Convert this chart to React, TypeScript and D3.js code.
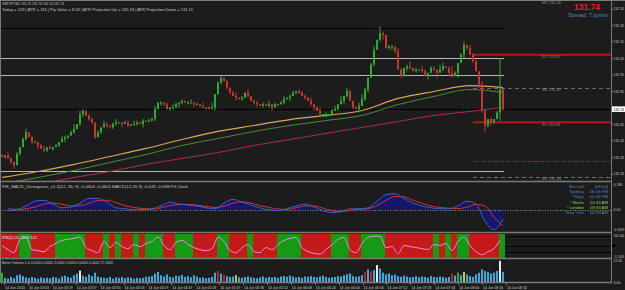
import React from "react";
import * as d3 from "d3";

const W = 625;
const H = 290;

// ---------- DATA ----------
const firstOpen = 131.46;
const closes = [
  131.45, 131.46, 131.44, 131.42, 131.40, 131.47, 131.51, 131.56, 131.60, 131.57,
  131.54, 131.54, 131.52, 131.50, 131.49, 131.51, 131.50, 131.51, 131.52, 131.54,
  131.56, 131.57, 131.58, 131.60, 131.62, 131.65, 131.71, 131.73, 131.70, 131.68,
  131.66, 131.57, 131.60, 131.63, 131.65, 131.64, 131.63, 131.65, 131.66, 131.66,
  131.65, 131.66, 131.64, 131.65, 131.65, 131.66, 131.65, 131.67, 131.67, 131.67,
  131.68, 131.74, 131.78, 131.78, 131.77, 131.74, 131.75, 131.75, 131.77, 131.78,
  131.79, 131.78, 131.78, 131.78, 131.77, 131.77, 131.76, 131.75, 131.75, 131.74,
  131.75, 131.83, 131.90, 131.93, 131.91, 131.87, 131.84, 131.82, 131.81, 131.80,
  131.81, 131.84, 131.82, 131.79, 131.78, 131.77, 131.76, 131.77, 131.76, 131.77,
  131.75, 131.77, 131.77, 131.78, 131.80, 131.81, 131.82, 131.84, 131.85, 131.84,
  131.82, 131.81, 131.79, 131.77, 131.75, 131.73, 131.71, 131.71, 131.71, 131.71,
  131.73, 131.74, 131.77, 131.79, 131.82, 131.85, 131.79, 131.75, 131.74, 131.76,
  131.80, 131.86, 131.93, 132.01, 132.10, 132.16, 132.20, 132.19, 132.11, 132.12,
  132.12, 132.09, 131.98, 131.94, 131.99, 132.00, 131.99, 131.97, 131.98, 131.98,
  131.97, 131.94, 131.96, 131.99, 131.98, 131.96, 131.98, 132.00, 131.99, 131.96,
  131.94, 131.96, 132.02, 132.07, 132.13, 132.11, 132.07, 132.03, 131.97, 131.89,
  131.73, 131.64, 131.68, 131.66, 131.68, 131.72, 131.86, 131.74,
];
// wick lengths in pips (0.01)
const wickUp = [
  1, 0, 2, 1, 0, 1, 0, 1, 2, 0, 1, 1, 0, 1, 2, 0, 1, 0, 1, 0,
  2, 1, 0, 1, 3, 0, 2, 1, 0, 1, 1, 0, 1, 0, 2, 1, 0, 1, 2, 0,
  0, 1, 1, 0, 2, 1, 0, 1, 0, 1, 1, 2, 0, 1, 0, 1, 0, 2, 1, 0,
  1, 0, 1, 2, 0, 1, 0, 2, 0, 1, 3, 0, 1, 1, 0, 1, 0, 1, 2, 0,
  1, 0, 2, 0, 1, 1, 0, 1, 0, 2, 0, 1, 0, 1, 2, 0, 1, 1, 0, 1,
  1, 1, 0, 2, 0, 1, 2, 0, 1, 0, 1, 2, 0, 3, 0, 2, 1, 0, 1, 2,
  3, 1, 0, 1, 2, 0, 4, 1, 0, 1, 1, 0, 2, 1, 0, 1, 3, 0, 1, 0,
  2, 1, 0, 1, 1, 0, 3, 2, 0, 1, 4, 1, 0, 1, 2, 0, 2, 1, 1, 0,
  2, 1, 0, 1, 0, 1, 19, 0,
];
const wickDn = [
  0, 1, 0, 1, 2, 0, 1, 0, 1, 0, 1, 0, 2, 0, 1, 1, 0, 1, 0, 1,
  0, 2, 1, 0, 1, 0, 1, 2, 0, 1, 1, 1, 0, 1, 0, 2, 0, 1, 1, 0,
  2, 0, 1, 0, 1, 1, 0, 2, 0, 1, 0, 1, 0, 2, 1, 0, 1, 1, 0, 2,
  1, 0, 1, 0, 2, 0, 1, 0, 1, 0, 0, 2, 0, 1, 0, 1, 1, 0, 2, 0,
  1, 0, 1, 0, 1, 2, 0, 1, 0, 1, 2, 0, 1, 0, 1, 0, 2, 0, 1, 1,
  0, 1, 0, 1, 2, 0, 1, 0, 2, 0, 1, 0, 1, 0, 2, 1, 0, 1, 0, 2,
  0, 1, 2, 0, 1, 0, 1, 3, 0, 1, 2, 1, 0, 1, 0, 2, 1, 0, 1, 0,
  1, 0, 2, 0, 1, 3, 0, 1, 0, 2, 1, 0, 3, 0, 2, 1, 0, 1, 0, 2,
  1, 4, 1, 2, 1, 0, 5, 1,
];

// moving averages sampled at bar indices
const maBars = [0, 12, 24, 36, 48, 60, 72, 84, 96, 108, 120, 132, 144, 156, 167];
const maYellow = [131.326, 131.362, 131.405, 131.453, 131.502, 131.556, 131.605, 131.641, 131.677, 131.702, 131.732, 131.805, 131.847, 131.883, 131.871];
const maGreen = [131.289, 131.326, 131.368, 131.417, 131.465, 131.520, 131.562, 131.605, 131.641, 131.671, 131.702, 131.768, 131.817, 131.859, 131.841];
const maRed = [131.241, 131.283, 131.326, 131.362, 131.405, 131.441, 131.477, 131.520, 131.556, 131.593, 131.629, 131.665, 131.702, 131.726, 131.750];

// MACD sampled every 3 bars starting at bar 2
const macdMain = [
  -0.005, 0.000, 0.020, 0.045, 0.050, 0.030, 0.010, 0.015, 0.035, 0.060,
  0.060, 0.040, 0.010, 0.005, 0.000, 0.000, 0.005, 0.020, 0.040, 0.030,
  0.025, 0.020, 0.010, 0.005, 0.035, 0.055, 0.040, 0.025, 0.010, 0.000,
  -0.005, 0.005, 0.020, 0.030, 0.015, -0.005, -0.015, -0.010, 0.005, 0.005,
  0.010, 0.045, 0.080, 0.085, 0.060, 0.035, 0.020, 0.010, 0.005, 0.005,
  0.020, 0.045, 0.030, -0.060, -0.105, -0.050,
];
const macdSignal = [
  0.005, 0.002, 0.005, 0.015, 0.030, 0.035, 0.028, 0.020, 0.022, 0.035,
  0.048, 0.050, 0.038, 0.022, 0.012, 0.006, 0.004, 0.010, 0.022, 0.028,
  0.028, 0.024, 0.018, 0.012, 0.018, 0.035, 0.042, 0.035, 0.022, 0.012,
  0.004, 0.002, 0.010, 0.020, 0.020, 0.008, -0.005, -0.010, -0.004, 0.002,
  0.006, 0.022, 0.050, 0.070, 0.068, 0.050, 0.034, 0.020, 0.012, 0.008,
  0.006, 0.014, 0.028, 0.020, -0.040, -0.085,
];

// RSI every 2 bars
const rsiVals = [
  50, 30, 15, 80, 90, 30, 25, 20, 45, 60, 75, 80, 85, 92, 40, 25, 15, 70, 40, 65,
  45, 35, 55, 45, 60, 70, 92, 50, 30, 65, 75, 55, 40, 30, 25, 35, 90, 70, 25, 15,
  40, 55, 20, 15, 40, 30, 55, 75, 85, 90, 40, 20, 12, 8, 30, 55, 80, 90, 30, 15,
  60, 90, 96, 95, 40, 45, 10, 50, 45, 40, 35, 30, 55, 50, 60, 25, 70, 92, 50, 20,
  5, 20, 35, 75,
];
const stripes =
  "RRRRRRGGGGRRRRRRRRGG" +
  "GGGGGGGGRRRRRRGGRRGG" +
  "RRRRGGRRGGGGGGRRRRGG" +
  "GGGGRRRRRRRRGGGGRRRR" +
  "RRGGRRRRRRRRGGGGGGGG" +
  "RRRRRRRRRRGGGGGGRRRR" +
  "GGGGGGGGRRRRRRRRRRRR" +
  "RRRRGGRRGGRRGGGGRRRR" +
  "RRRRRRGG";

const volumes = [
  22, 10, 8, 12, 9, 16, 18, 14, 11, 9, 12, 10, 8, 11, 9, 10, 9, 12, 11, 8,
  13, 15, 12, 10, 16, 20, 27, 15, 12, 18, 14, 22, 13, 11, 10, 9, 12, 8, 11, 10,
  12, 9, 11, 10, 8, 10, 9, 10, 12, 13, 14, 20, 24, 16, 13, 18, 12, 11, 15, 14,
  17, 12, 14, 11, 16, 13, 10, 11, 9, 10, 12, 22, 26, 20, 17, 14, 12, 13, 16, 11,
  10, 12, 13, 11, 10, 9, 11, 13, 10, 12, 11, 12, 10, 13, 14, 12, 15, 13, 11, 12,
  10, 13, 12, 14, 12, 11, 13, 15, 12, 10, 11, 12, 14, 13, 16, 18, 20, 14, 12, 13,
  16, 24, 30, 26, 28, 40, 32, 22, 18, 20, 16, 18, 14, 12, 15, 13, 11, 12, 14, 11,
  13, 12, 10, 14, 12, 11, 13, 12, 10, 12, 20, 15, 22, 16, 24, 18, 14, 12, 18, 22,
  30, 26, 24, 20, 22, 26, 50, 24,
];
const volWhite = [26, 125, 166];
const volRed = [72, 74, 121, 123, 150];
const volGreen = [0, 152];
const volYellow = [78, 154];

const priceTicks = [132.35, 132.25, 132.15, 132.05, 131.95, 131.85, 131.65, 131.55, 131.45, 131.35];
const currentPrice = 131.74;
const timeLabels = [
  "14 Jun 2011", "14 Jun 03:03", "14 Jun 03:19", "14 Jun 03:37", "14 Jun 03:55", "14 Jun 04:13",
  "14 Jun 04:29", "14 Jun 04:47", "14 Jun 05:03", "14 Jun 05:19", "14 Jun 05:36", "14 Jun 05:52",
  "14 Jun 06:08", "14 Jun 06:24", "14 Jun 06:40", "14 Jun 06:56", "14 Jun 07:12", "14 Jun 07:28",
  "14 Jun 07:44", "14 Jun 08:00", "14 Jun 08:16", "14 Jun 08:32",
];
const fullLines = [132.229, 132.053, 131.944, 131.368];
const pivotNames = ["M5 132.40", "R1 132.07", "M4 131.87", "S1 131.66", "M3 131.33"];
const pivotValues = [132.40, 132.07, 131.87, 131.66, 131.33];
const greenLevel = 131.425;
const clockNames = ["Bar Left", "Sydney", "Tokyo", "* Berlin", "* London", "New York"];
const clockTimes = ["[08:54]", "06:33 PM", "05:33 PM", "10:33 AM", "09:33 AM", "04:33 AM"];

const FONT = "'Liberation Sans', Arial, sans-serif";
const BG = "#1c1c1c";
const GRAY = "#7a7a7a";
const TXT = "#c8c8c8";

function AxisText({ x, y, t, fill = TXT }: { x: number; y: number; t: string; fill?: string }) {
  const room = 625 - x - 0.8;
  const len = Math.min(t.length * 1.75, room);
  const fs = Math.min(3.9, len / (t.length * 0.52));
  return (
    <text x={x} y={y} fontSize={fs} fill={fill} textLength={len} lengthAdjust="spacingAndGlyphs">{t}</text>
  );
}

export default function App() {
  const n = closes.length;
  const xs = d3.scaleLinear().domain([0, n - 1]).range([2, 503]);
  const yP = d3.scaleLinear().domain([131.35, 132.35]).range([173.5, 8.5]);
  const yM = d3.scaleLinear().domain([-0.1019, 0.136]).range([229, 184]);
  const yR = d3.scaleLinear().domain([-1.165, 101.406]).range([256, 235]);
  const yV = d3.scaleLinear().domain([0, 51.95]).range([282, 260]);
  const xT = d3.scaleLinear().domain([0, timeLabels.length - 1]).range([4, 506]);
  const AX = 611;

  const candles = closes.map((c, i) => {
    const o = i === 0 ? firstOpen : closes[i - 1];
    const hi = Math.max(o, c) + wickUp[i] / 100;
    const lo = Math.min(o, c) - wickDn[i] / 100;
    return { i, o, c, hi, lo, up: c >= o };
  });

  const maLine = (vals: number[]) =>
    d3.line<number>().x((_, k) => xs(maBars[k])).y((v) => yP(v)).curve(d3.curveMonotoneX)(vals) || "";

  const macdX = (k: number) => xs(2 + 3 * k);
  const macdLine = (vals: number[]) =>
    d3.line<number>().x((_, k) => macdX(k)).y((v) => yM(v)).curve(d3.curveMonotoneX)(vals) || "";
  const macdArea =
    d3.area<number>().x((_, k) => macdX(k)).y0(yM(0)).y1((v) => yM(v)).curve(d3.curveMonotoneX)(macdMain) || "";

  const rsiLine =
    d3.line<number>().x((_, k) => xs(2 * k)).y((v) => yR(v)).curve(d3.curveMonotoneX)(rsiVals) || "";

  const volColor = (i: number) =>
    volWhite.includes(i) ? "#e8e8e8" : volRed.includes(i) ? "#c02020" : volGreen.includes(i) ? "#22b022" : volYellow.includes(i) ? "#c8c840" : "#3aa8dc";

  return (
    <svg width={W} height={H} style={{ position: "absolute", left: 0, top: 0, background: BG }} fontFamily={FONT}>
      <rect x={0} y={0} width={W} height={H} fill={BG} />
      <defs>
        <clipPath id="mainClip"><rect x={1} y={1} width={AX - 1} height={180} /></clipPath>
        <clipPath id="macdClip"><rect x={1} y={183} width={AX - 1} height={49} /></clipPath>
        <clipPath id="rsiClip"><rect x={1} y={234} width={AX - 1} height={24} /></clipPath>
        <clipPath id="volClip"><rect x={1} y={260} width={AX - 1} height={22} /></clipPath>
      </defs>

      {/* ---------- MAIN PANEL ---------- */}
      <g clipPath="url(#mainClip)">
        {fullLines.map((v, k) => (
          <line key={k} x1={0} x2={xs(n - 1) + 1} y1={Math.round(yP(v)) + 0.5} y2={Math.round(yP(v)) + 0.5}
            stroke={k === 0 ? "#000" : "#b8b8b8"} strokeWidth={1} />
        ))}
        <line x1={0} x2={AX} y1={Math.round(yP(currentPrice)) + 0.5} y2={Math.round(yP(currentPrice)) + 0.5} stroke="#000" strokeWidth={1} />
        {pivotValues.map((v, k) => {
          const y = yP(v);
          const isRed = pivotNames[k].startsWith("R") || pivotNames[k].startsWith("S");
          return (
            <g key={k}>
              {isRed ? (
                <line x1={xs(157)} x2={AX} y1={y} y2={y} stroke="#b01818" strokeWidth={2} />
              ) : (
                <line x1={xs(157)} x2={AX} y1={Math.round(y) + 0.5} y2={Math.round(y) + 0.5} stroke="#6a6a6a" strokeWidth={1} strokeDasharray="4,3" />
              )}
            </g>
          );
        })}
        <line x1={xs(157)} x2={AX} y1={Math.round(yP(greenLevel)) + 0.5} y2={Math.round(yP(greenLevel)) + 0.5} stroke="#2a8a2a" strokeWidth={1} strokeDasharray="1,1.5" />
        <path d={maLine(maRed)} fill="none" stroke="#a8304c" strokeWidth={1} />
        <path d={maLine(maGreen)} fill="none" stroke="#4b8a3c" strokeWidth={1} />
        <path d={maLine(maYellow)} fill="none" stroke="#d8a85a" strokeWidth={1.2} />
        {candles.map((d) => {
          const col = d.up ? "#2eaa2e" : "#c8362e";
          const x = xs(d.i);
          const yTop = yP(Math.max(d.o, d.c));
          const yBot = yP(Math.min(d.o, d.c));
          return (
            <g key={d.i}>
              <rect x={x - 0.5} y={yP(d.hi)} width={1} height={Math.max(1, yP(d.lo) - yP(d.hi))} fill={col} />
              <rect x={x - 1} y={yTop} width={2} height={Math.max(1, yBot - yTop)} fill={col} />
            </g>
          );
        })}
        {pivotNames.map((t, k) => (
          <text key={k} x={542} y={yP(pivotValues[k]) + (k === 0 ? 4 : 3.5)} fontSize={4} fill="#8a8a8a">{t}</text>
        ))}
      </g>
      <text x={2} y={5} fontSize={4} fill={TXT} textLength={62} lengthAdjust="spacingAndGlyphs">GBPJPY,M1  131.75 131.76 131.74 131.74</text>
      <text x={2} y={10.5} fontSize={4} fill={TXT} textLength={191} lengthAdjust="spacingAndGlyphs">
        Today = 123   |   ATR = 115   |   Pip Value = 8.62   |   ATR Projection Up = 132.18   |   ATR Projection Down = 131.11
      </text>
      <text x={600} y={10} fontSize={8.5} fontWeight="bold" fill="#e42222" textAnchor="end">131.74</text>
      <text x={608} y={16.5} fontSize={5.5} fill="#4a86c0" textAnchor="end">Spread: 7 points</text>

      {/* ---------- MACD PANEL ---------- */}
      <text x={2} y={188} fontSize={4} fill={TXT} textLength={186} lengthAdjust="spacingAndGlyphs">
        FIS_MACD_Divergence_v1.0(12, 26, 9) -0.0404 -0.0601  MACD(12,26,9) -0.045 -0.068  P4 Clock
      </text>
      <g clipPath="url(#macdClip)">
        <path d={macdArea} fill="#16166a" />
        <line x1={0} x2={AX} y1={Math.round(yM(0)) + 0.5} y2={Math.round(yM(0)) + 0.5} stroke="#b0b0b0" strokeWidth={0.8} strokeDasharray="1,1.5" />
        <path d={macdLine(macdSignal)} fill="none" stroke="#c83838" strokeWidth={1} />
        <path d={macdLine(macdMain)} fill="none" stroke="#3a62d0" strokeWidth={1} />
      </g>
      {clockNames.map((t, k) => (
        <g key={k}>
          <text x={584} y={188 + k * 5.2} fontSize={4.3} textAnchor="end"
            fill={t.startsWith("*") ? "#8cd05a" : "#4a86c0"}>{t}</text>
          <text x={608} y={188 + k * 5.2} fontSize={4.3} textAnchor="end"
            fill={t.startsWith("*") ? "#8cd05a" : "#4a86c0"}>{clockTimes[k]}</text>
        </g>
      ))}

      {/* ---------- RSI / STRIPE PANEL ---------- */}
      <g clipPath="url(#rsiClip)">
        {[236.5, 246.5, 252.5].map((y, k) => (
          <line key={k} x1={0} x2={AX} y1={y} y2={y} stroke="#000" strokeWidth={1} />
        ))}
        {candles.map((d) => (
          <rect key={d.i} x={xs(d.i) - 1} y={234} width={3} height={24}
            fill={stripes[d.i] === "G" ? "#149a14" : "#c41a1a"} shapeRendering="crispEdges" />
        ))}
        <path d={rsiLine} fill="none" stroke="#f08ad6" strokeWidth={1} />
      </g>
      <text x={2} y={238.5} fontSize={4} fill="#e0e0e0">RSI(2) 41.7859 141</text>
      <rect x={612} y={244} width={3} height={3} fill="#000" />

      {/* ---------- VOLUME PANEL ---------- */}
      <text x={2} y={264} fontSize={4} fill={TXT} textLength={111} lengthAdjust="spacingAndGlyphs">
        Better Volume 1.4 0.0000 0.0000 2.0000 0.0000 0.0000 0.0000 17.0000
      </text>
      <g clipPath="url(#volClip)">
        {volumes.map((v, i) => (
          <rect key={i} x={xs(i) - 1} y={yV(v)} width={2} height={yV(0) - yV(v)} fill={volColor(i)} />
        ))}
      </g>

      {/* ---------- FRAMES ---------- */}
      <line x1={0} x2={W} y1={0.5} y2={0.5} stroke={GRAY} />
      <line x1={0.5} x2={0.5} y1={0} y2={283} stroke={GRAY} />
      {[181.5, 232.5, 258.5, 282.5].map((y, k) => (
        <line key={k} x1={0} x2={AX} y1={y} y2={y} stroke={GRAY} strokeWidth={1.5} />
      ))}
      <line x1={AX + 0.5} x2={AX + 0.5} y1={0} y2={283} stroke={GRAY} />

      {priceTicks.map((p, k) => (
        <g key={k}>
          <line x1={AX} x2={AX + 2} y1={Math.round(yP(p)) + 0.5} y2={Math.round(yP(p)) + 0.5} stroke={GRAY} />
          <AxisText x={AX + 2.5} y={yP(p) + 1.5} t={p.toFixed(2)} />
        </g>
      ))}
      <rect x={AX + 1} y={yP(currentPrice) - 2.8} width={14} height={5.6} fill="#ffffff" />
      <AxisText x={AX + 2.5} y={yP(currentPrice) + 1.5} t={currentPrice.toFixed(2)} fill="#000" />
      <AxisText x={AX + 2.5} y={yM(0.136) + 1.5} t="0.136" />
      <AxisText x={AX + 2.5} y={yM(0) + 1.5} t="0.00" />
      <AxisText x={AX + 2.5} y={yM(-0.1019) + 1.5} t="-0.1019" />
      <AxisText x={AX + 2.5} y={yR(101.406) + 1.5} t="101.406" />
      <AxisText x={AX + 2.5} y={yR(-1.165) + 1.5} t="-1.165" />
      <AxisText x={AX + 2.5} y={yV(51.95) + 1.5} t="51.95" />
      <AxisText x={AX + 2.5} y={yV(0) + 1.5} t="0.00" />

      {timeLabels.map((t, k) => (
        <g key={k}>
          <line x1={Math.round(xT(k)) + 0.5} x2={Math.round(xT(k)) + 0.5} y1={283} y2={285} stroke={GRAY} />
          <text x={xT(k) + 1} y={288.5} fontSize={3.8} fill={TXT} textLength={20} lengthAdjust="spacingAndGlyphs">{t}</text>
        </g>
      ))}
    </svg>
  );
}
